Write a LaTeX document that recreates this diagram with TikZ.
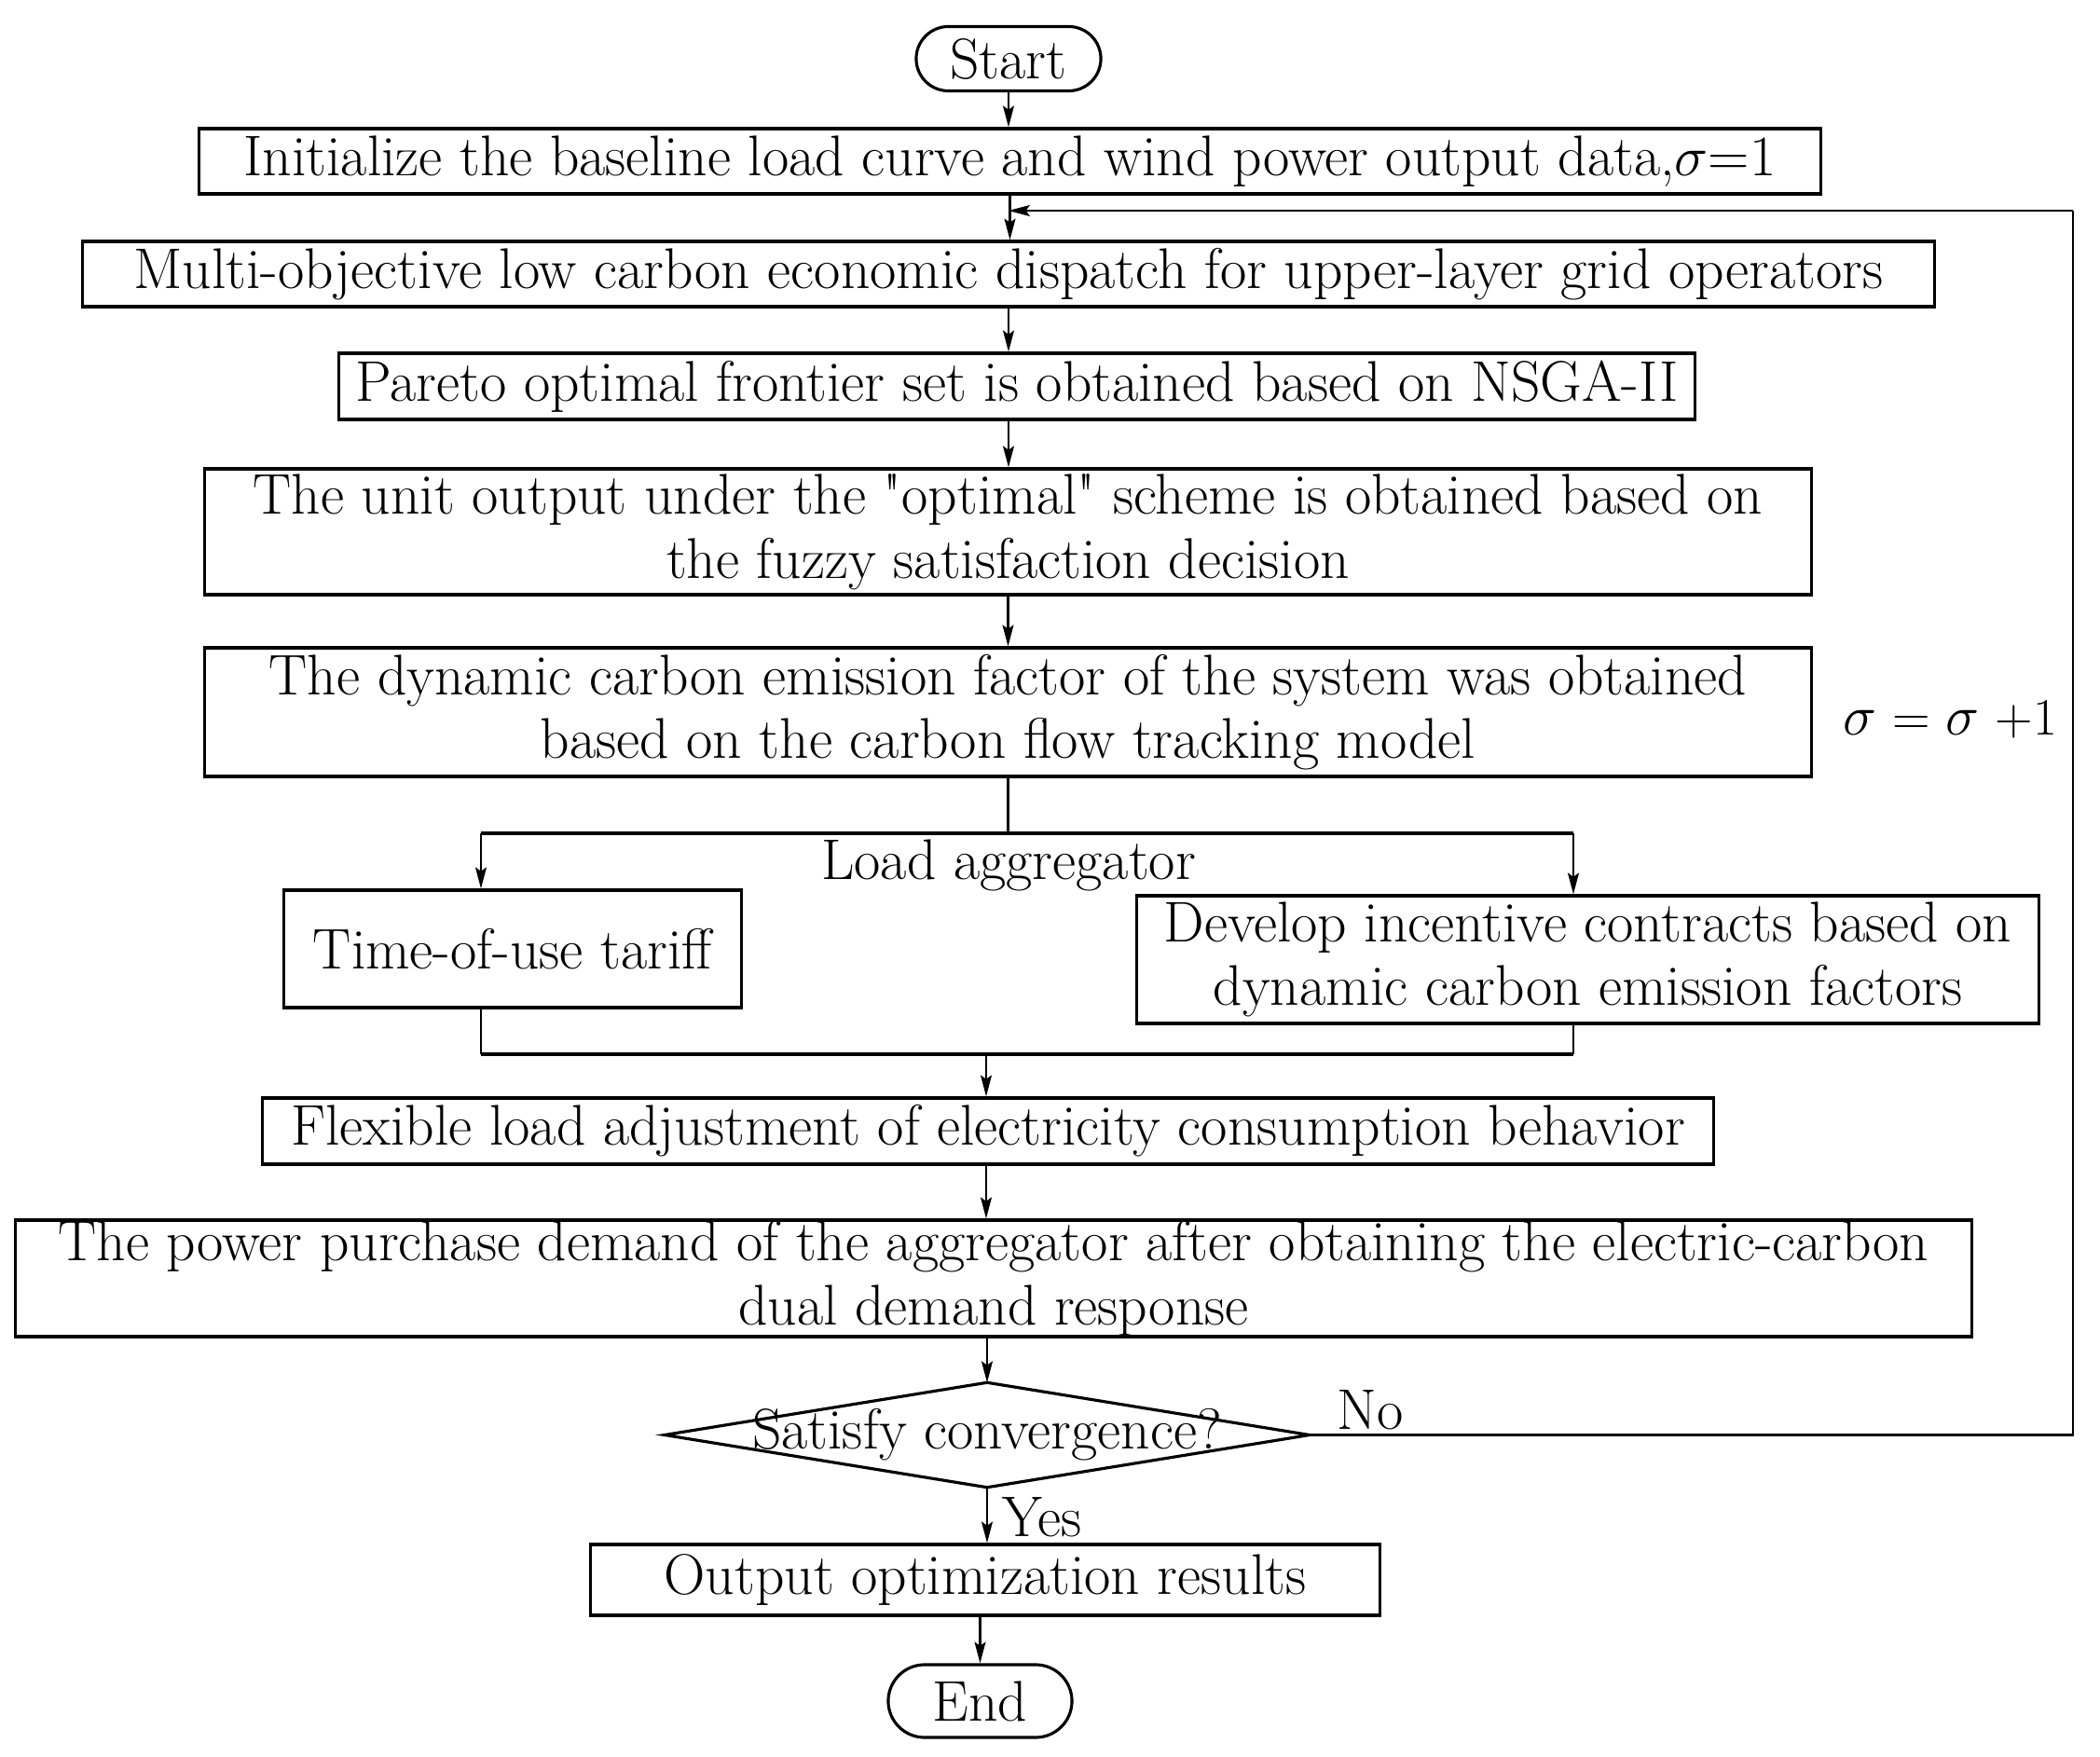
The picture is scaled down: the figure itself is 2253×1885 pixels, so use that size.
\documentclass[tikz,border=0pt]{standalone}
\usepackage{fontspec}
\usetikzlibrary{arrows.meta,shapes.misc}
\begin{document}
\begin{tikzpicture}[x=0.01cm,y=-0.01cm,
  every node/.style={font=\fontsize{17.5}{19.5}\selectfont},
  box/.style={draw,line width=0.9pt,inner sep=0pt,align=center},
  term/.style={draw,line width=0.9pt,rounded rectangle,inner sep=0pt},
  arr/.style={line width=0.6pt,-{Stealth[length=6.5pt,width=3.4pt,inset=1.2pt]}},
  ln/.style={line width=0.9pt}]
\useasboundingbox (0,0) rectangle (2253,1885);
\node[term,minimum width=1.98cm,minimum height=0.69cm] (start) at (1082,63) {Start};
\node[box,minimum width=17.39cm,minimum height=0.70cm] (init) at (1083.5,173) {Initialize the baseline load curve and wind power output data,$\sigma$=1};
\node[box,minimum width=19.86cm,minimum height=0.70cm] (multi) at (1082,294) {Multi-objective low carbon economic dispatch for upper-layer grid operators};
\node[box,minimum width=14.54cm,minimum height=0.71cm] (pareto) at (1091,414.5) {Pareto optimal frontier set is obtained based on NSGA-II};
\node[box,minimum width=17.23cm,minimum height=1.35cm] (unit) at (1081.5,570.5) {The unit output under the \textquotedbl{}optimal\textquotedbl{} scheme is obtained based on\\the fuzzy satisfaction decision};
\node[box,minimum width=17.23cm,minimum height=1.38cm] (dyn) at (1081.5,764) {The dynamic carbon emission factor of the system was obtained\\based on the carbon flow tracking model};
\node (agg) at (1082,928) {Load aggregator};
\node[box,minimum width=4.90cm,minimum height=1.26cm] (tou) at (550,1018) {Time-of-use tariff};
\node[box,minimum width=9.67cm,minimum height=1.37cm] (dev) at (1703.5,1029.5) {Develop incentive contracts based on\\dynamic carbon emission factors};
\node[box,minimum width=15.56cm,minimum height=0.71cm] (flex) at (1060,1213.5) {Flexible load adjustment of electricity consumption behavior};
\node[box,minimum width=20.98cm,minimum height=1.25cm] (power) at (1066,1371.5) {The power purchase demand of the aggregator after obtaining the electric-carbon\\dual demand response};
\node[inner sep=0pt,minimum width=6.90cm,minimum height=1.11cm] (dia) at (1059,1539.5) {Satisfy convergence?};
\draw[ln] (dia.west) -- (dia.north) -- (dia.east) -- (dia.south) -- cycle;
\node[box,minimum width=8.46cm,minimum height=0.76cm] (out) at (1057,1695) {Output optimization results};
\node[term,minimum width=1.97cm,minimum height=0.78cm] (end) at (1051.5,1825) {End};
\node (no) at (1470,1513) {No};
\node (yes) at (1118,1628) {Yes};
\node[anchor=east,inner sep=0pt,font=\fontsize{16}{19}\selectfont] (sig) at (2208,772) {$\sigma$ = $\sigma$ +1};
% coordinates
\coordinate (bl) at (516,894);
\coordinate (br) at (1688,894);
\coordinate (ml) at (516,1131);
\coordinate (mr) at (1688,1131);
\coordinate (mm) at (1058,1131);
\coordinate (fbr) at (2224,1539.5);
\coordinate (fbt) at (2224,226);
\coordinate (fbin) at (1082,226);
% connectors
\draw[arr] (start.south) -- (start.south |- init.north);
\draw[arr] (init.south) -- (init.south |- multi.north);
\draw[arr] (multi.south) -- (multi.south |- pareto.north);
\draw[arr] (multi.south |- pareto.south) -- (multi.south |- unit.north);
\draw[arr] (unit.south) -- (unit.south |- dyn.north);
\draw[line width=0.6pt] (dyn.south) -- (dyn.south |- bl);
\draw[ln] (bl) -- (br);
\draw[arr] (bl) -- (bl |- tou.north);
\draw[arr] (br) -- (br |- dev.north);
\draw[line width=0.6pt] (ml |- tou.south) -- (ml);
\draw[line width=0.6pt] (mr |- dev.south) -- (mr);
\draw[ln] (ml) -- (mr);
\draw[arr] (mm) -- (mm |- flex.north);
\draw[arr] (flex.south -| mm) -- (mm |- power.north);
\draw[arr] (power.south -| dia.north) -- (dia.north);
\draw[arr] (dia.south) -- (dia.south |- out.north);
\draw[arr] (out.south -| end.north) -- (end.north);
\draw[line width=0.6pt] (dia.east) -- (fbr) -- (fbt);
\draw[arr] (fbt) -- (fbin);
\end{tikzpicture}
\end{document}
